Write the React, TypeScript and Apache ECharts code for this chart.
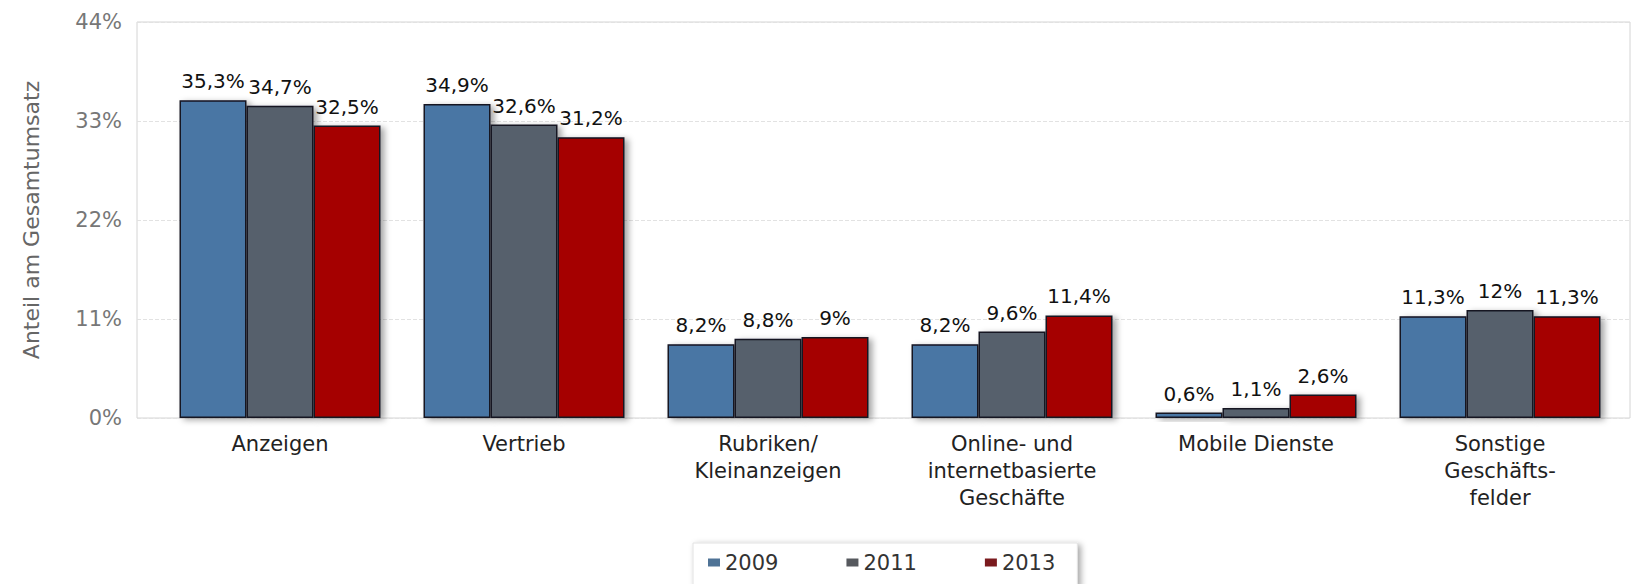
import React, { useEffect, useRef } from "react";
import * as echarts from "echarts";

const categories = [
  "Anzeigen",
  "Vertrieb",
  "Rubriken/\nKleinanzeigen",
  "Online- und\ninternetbasierte\nGeschäfte",
  "Mobile Dienste",
  "Sonstige\nGeschäfts-\nfelder",
];
const seriesNames = ["2009", "2011", "2013"];
const values2009 = [35.3, 34.9, 8.2, 8.2, 0.6, 11.3];
const values2011 = [34.7, 32.6, 8.8, 9.6, 1.1, 12];
const values2013 = [32.5, 31.2, 9, 11.4, 2.6, 11.3];
const colors = ["#4a76a4", "#56606c", "#a50000"];
const legendColors = ["#4f7396", "#56595e", "#7a1a1e"];
const yTicks = { min: 0, max: 44, interval: 11 };

const FONT = "'DejaVu Sans', Verdana, sans-serif";

export default function App() {
  const ref = useRef<HTMLDivElement>(null);
  useEffect(() => {
    document.body.style.margin = "0";
    const chart = echarts.init(ref.current!, undefined, { renderer: "svg" });
    const allValues = [values2009, values2011, values2013];
    const series = allValues.map((vals, i) => ({
      name: seriesNames[i],
      type: "bar",
      xAxisIndex: 1,
      yAxisIndex: 1,
      data: vals,
      barWidth: 67,
      barGap: "0%",
      itemStyle: {
        color: colors[i],
        borderColor: "#151520",
        borderWidth: 1.5,
        shadowColor: "rgba(0,0,0,0.35)",
        shadowBlur: 6,
        shadowOffsetX: 4,
        shadowOffsetY: 2,
      },
      label: {
        show: true,
        position: "top",
        distance: 9,
        fontFamily: FONT,
        fontSize: 20,
        color: "#111",
        formatter: (p: any) => String(p.value).replace(".", ",") + "%",
      },
    }));
    chart.setOption({
      animation: false,
      backgroundColor: "#fff",
      textStyle: { fontFamily: FONT },
      grid: [
        {
          left: 137,
          right: 5,
          top: 22,
          bottom: 166,
          show: true,
          borderColor: "#d4d4d4",
          borderWidth: 1,
        },
        { left: 158, right: 13, top: 22, bottom: 166 },
      ],
      legend: {
        data: seriesNames.map((n, i) => ({
          name: n,
          itemStyle: {
            color: legendColors[i],
            borderWidth: 0,
            shadowBlur: 0,
            shadowOffsetX: 0,
            shadowOffsetY: 0,
            shadowColor: "transparent",
          },
        })),
        left: 693,
        top: 543,
        icon: "rect",
        itemWidth: 12,
        itemHeight: 8,
        itemGap: 68,
        padding: [9, 22, 14, 15],
        backgroundColor: "#fff",
        borderColor: "#e2e2e2",
        borderWidth: 1,
        shadowColor: "rgba(0,0,0,0.35)",
        shadowBlur: 6,
        shadowOffsetX: 3,
        shadowOffsetY: 2,
        textStyle: { fontFamily: FONT, fontSize: 21, color: "#333" },
      },
      xAxis: [
        {
          type: "category",
          gridIndex: 0,
          data: categories,
          show: false,
        },
        {
          type: "category",
          gridIndex: 1,
          data: categories,
          axisLine: { show: false },
          axisTick: { show: false },
          axisLabel: {
            fontFamily: FONT,
            fontSize: 21,
            color: "#222",
            lineHeight: 27,
            margin: 12,
            interval: 0,
          },
        },
      ],
      yAxis: [
        {
          type: "value",
          gridIndex: 0,
          min: yTicks.min,
          max: yTicks.max,
          interval: yTicks.interval,
          name: "Anteil am Gesamtumsatz",
          nameLocation: "middle",
          nameRotate: 90,
          nameGap: 95,
          nameTextStyle: { fontFamily: FONT, fontSize: 22, color: "#666" },
          axisLine: { show: false },
          axisTick: { show: false },
          axisLabel: {
            fontFamily: FONT,
            fontSize: 21,
            color: "#777",
            margin: 15,
            formatter: "{value}%",
          },
          splitLine: {
            show: true,
            lineStyle: { color: "#e2e2e2", type: "dashed", width: 1 },
          },
        },
        {
          type: "value",
          gridIndex: 1,
          min: yTicks.min,
          max: yTicks.max,
          interval: yTicks.interval,
          show: false,
          splitLine: { show: false },
        },
      ],
      series,
    });
    return () => chart.dispose();
  }, []);
  return <div ref={ref} style={{ width: 1635, height: 584 }} />;
}
